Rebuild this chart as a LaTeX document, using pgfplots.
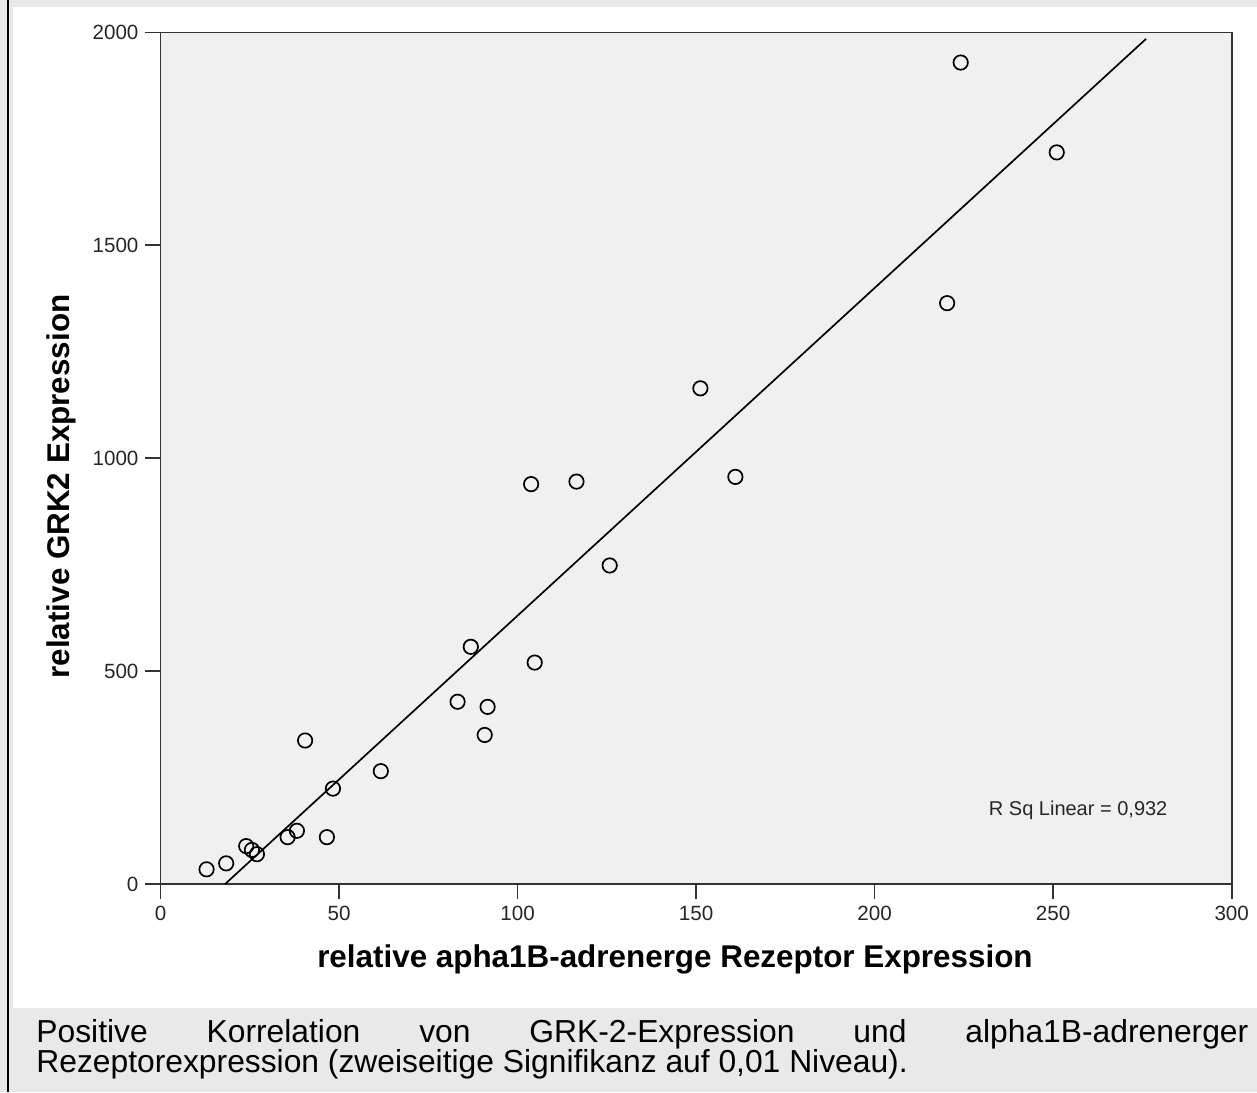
\documentclass[border=0pt]{standalone}
\usepackage{pgfplots}
\pgfplotsset{compat=1.18}
\usepackage{fontspec}
\setmainfont{Liberation Sans}
\definecolor{outerbg}{HTML}{E9E9E9}
\definecolor{plotbg}{HTML}{F0F0F0}
\definecolor{axcol}{HTML}{333333}
\begin{document}
\begin{tikzpicture}
\useasboundingbox (0,0) rectangle (628.5pt,-546pt);
\fill[outerbg] (0,0) rectangle (628.5pt,-546pt);
\fill[white] (6.5pt,-3.5pt) rectangle (628.5pt,-504pt);
\draw[black, line width=1pt] (4pt,0) -- (4pt,-546pt);
\begin{axis}[
  at={(80.25pt,-442pt)}, anchor=south west,
  scale only axis, width=535.6pt, height=425.85pt,
  xmin=0, xmax=300, ymin=0, ymax=2000,
  xtick={0,50,...,300}, ytick={0,500,...,2000},
  xtick pos=bottom, ytick pos=left,
  tick align=outside, major tick length=7.5pt,
  axis background/.style={fill=plotbg},
  axis line style={axcol, line width=0.8pt},
  tick style={axcol, line width=0.8pt},
  every tick label/.append style={font=\fontsize{10.3}{12}\selectfont, text=black!85},
  /pgf/number format/assume math mode=true,
  /pgf/number format/1000 sep={},
  xlabel={relative apha1B-adrenerge Rezeptor Expression},
  ylabel={relative GRK2 Expression},
  xlabel style={at={(axis description cs:0.4803,-0.0986)}, anchor=base, font=\bfseries\fontsize{15.7}{18}\selectfont},
  ylabel style={at={(axis description cs:-0.0845,0.4667)}, anchor=base, font=\bfseries\fontsize{15.7}{18}\selectfont},
  clip=false,
]
\addplot[black, line width=0.85pt] coordinates {(18.1,0) (276,1984.5)};
\addplot[only marks, mark=o, mark size=3.6pt, mark options={line width=0.85pt, draw=black}] coordinates {
(12.9,34.5) (18.4,48.5) (24.0,89) (25.6,80) (27.0,70) (35.6,110) (38.2,125)
(46.6,110) (48.3,224) (40.5,337) (61.7,265) (83.2,428) (86.9,557) (90.8,350)
(91.6,416) (103.8,939) (104.8,520) (116.5,945) (125.8,748) (151.2,1164)
(161.0,956) (220.3,1364) (224.1,1929) (251.0,1718)
};
\node[anchor=base, font=\fontsize{10}{12}\selectfont, text=black!85] at (axis cs:257,162) {R Sq Linear = 0,932};
\end{axis}
\node[anchor=base west, inner sep=0pt, font=\fontsize{15.9}{15}\selectfont] at (18pt,-521pt)
  {\makebox[606pt][s]{Positive\hfill Korrelation\hfill von\hfill GRK-2-Expression\hfill und\hfill alpha1B-adrenerger}};
\node[anchor=base west, inner sep=0pt, font=\fontsize{15.9}{15}\selectfont] at (18pt,-536pt)
  {Rezeptorexpression (zweiseitige Signifikanz auf 0,01 Niveau).};
\end{tikzpicture}
\end{document}
